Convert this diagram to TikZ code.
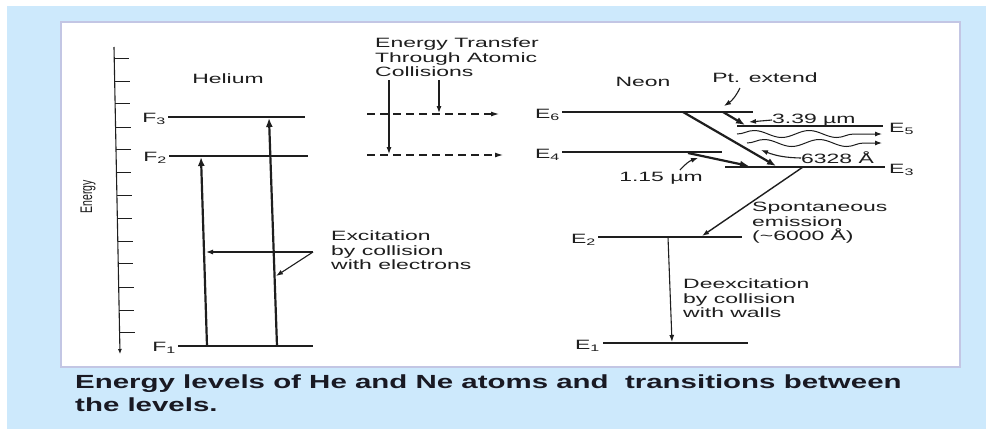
\documentclass[tikz,border=0pt]{standalone}
\usepackage{fontspec}
\setmainfont{Liberation Sans}
\newfontfamily\diagfont[FakeStretch=1.7]{Liberation Sans}
\newfontfamily\captfont[FakeStretch=1.55]{Liberation Sans}
\usetikzlibrary{arrows.meta,decorations.pathmorphing,calc}
\definecolor{bgblue}{RGB}{205,233,252}
\definecolor{paneledge}{RGB}{195,198,228}
\definecolor{ink}{RGB}{30,30,30}
\definecolor{capink}{RGB}{25,25,35}
\begin{document}
\begin{tikzpicture}[x=1pt,y=-1pt,
  txt/.style={font=\diagfont\fontsize{13.5}{14.5}\selectfont, text=ink, inner sep=0pt, align=left},
  lvl/.style={draw=ink, line width=1.1pt},
  thinarrow/.style={draw=ink, line width=1.1pt, -{Latex[length=7pt,width=5pt]}},
  thickarrow/.style={draw=ink, line width=2.2pt, -{Latex[length=9pt,width=7pt]}},
  dasharrow/.style={draw=ink, line width=1.1pt, dash pattern=on 8pt off 5pt, -{Latex[length=8pt,width=5pt]}},
  wavearrow/.style={draw=ink, line width=1pt, -{Latex[length=7pt,width=5pt]}, decorate,
    decoration={snake, amplitude=3.5pt, segment length=55pt, post length=8pt}},
]
\useasboundingbox (0,0) rectangle (986,429);
\fill[white] (0,0) rectangle (986,429);
\fill[bgblue] (7,6) rectangle (986,429);
\draw[paneledge, line width=2pt, fill=white] (61,22) rectangle (960,367);

% energy axis
\coordinate (axT) at (114,47);
\coordinate (axB) at (120,354);
\draw[ink, line width=1.1pt, -{Latex[length=5pt,width=4pt]}] (axT) -- (axB);
\foreach \y [evaluate=\y as \t using (\y-47)/307] in {58,81,103,127,149,172,195,218,241,263,287,310,332}
  \draw[ink, line width=1pt] ($(axT)!\t!(axB)$) -- ++(15,0);
\node[rotate=90, inner sep=0pt, text=ink] (energy) at (88,197)
  {\scalebox{1}[1.6]{\fontsize{10.5}{12}\selectfont Energy}};

% Helium
\node[txt] (he) at (228,79) {Helium};
\coordinate (F3a) at (168,117); \coordinate (F3b) at (305,117);
\coordinate (F2a) at (169,156); \coordinate (F2b) at (308,156);
\coordinate (F1a) at (178,346); \coordinate (F1b) at (313,346);
\draw[lvl] (F3a) -- (F3b);
\draw[lvl] (F2a) -- (F2b);
\draw[lvl] (F1a) -- (F1b);
\node[txt, anchor=east] (F3) at (166,119) {F\textsubscript{3}};
\node[txt, anchor=east] (F2) at (167,158) {F\textsubscript{2}};
\node[txt, anchor=east] (F1) at (176,348) {F\textsubscript{1}};
\coordinate (hL0) at (207,346); \coordinate (hL1) at (201,157);
\coordinate (hR0) at (277,346); \coordinate (hR1) at (269,118);
\draw[thickarrow] (hL0) -- (hL1);
\draw[thickarrow] (hR0) -- (hR1);
\coordinate (exK) at (313,252);
\coordinate (exH) at (206,252);
\coordinate (exD) at (276,276);
\draw[thinarrow] (exK) -- (exH);
\draw[thinarrow] (exK) -- (exD);
\node[txt, anchor=north west] (exc) at (331,231) {Excitation\\by collision\\with electrons};

% transfer
\node[txt, anchor=north west] (transfer) at (375,38) {Energy Transfer\\Through Atomic\\Collisions};
\coordinate (d6a) at (367,114); \coordinate (d6b) at (499,114);
\coordinate (d4a) at (367,155); \coordinate (d4b) at (503,155);
\draw[dasharrow] (d6a) -- (d6b);
\draw[dasharrow] (d4a) -- (d4b);
\coordinate (v1a) at (389,80); \coordinate (v1b) at (389,154);
\coordinate (v2a) at (439,80); \coordinate (v2b) at (439,113);
\draw[thinarrow] (v1a) -- (v1b);
\draw[thinarrow] (v2a) -- (v2b);

% Neon
\node[txt] (ne) at (643,82) {Neon};
\node[txt] (pt) at (765,78) {Pt. extend};
\coordinate (E6a) at (562,112); \coordinate (E6b) at (753,112);
\coordinate (E5a) at (737,126); \coordinate (E5b) at (883,126);
\coordinate (E4a) at (562,152); \coordinate (E4b) at (722,152);
\coordinate (E3a) at (725,167); \coordinate (E3b) at (885,167);
\coordinate (E2a) at (598,237); \coordinate (E2b) at (742,237);
\coordinate (E1a) at (603,343); \coordinate (E1b) at (748,343);
\foreach \a/\b in {E6a/E6b,E5a/E5b,E4a/E4b,E3a/E3b,E2a/E2b,E1a/E1b}
  \draw[lvl] (\a) -- (\b);
\node[txt, anchor=east] (E6) at (560,115) {E\textsubscript{6}};
\node[txt, anchor=east] (E4) at (560,155) {E\textsubscript{4}};
\node[txt, anchor=west] (E5) at (889,129) {E\textsubscript{5}};
\node[txt, anchor=west] (E3) at (889,170) {E\textsubscript{3}};
\node[txt, anchor=east] (E2) at (596,240) {E\textsubscript{2}};
\node[txt, anchor=east] (E1) at (600,346) {E\textsubscript{1}};

\coordinate (t63a) at (683,112); \coordinate (t63b) at (776,166);
\coordinate (t65a) at (723,112); \coordinate (t65b) at (745,125);
\coordinate (t43a) at (688,153); \coordinate (t43b) at (749,166);
\draw[thickarrow] (t63a) -- (t63b);
\draw[thickarrow] (t65a) -- (t65b);
\draw[thickarrow] (t43a) -- (t43b);

\coordinate (ptA) at (740,88); \coordinate (ptB) at (724,106);
\draw[thinarrow] (ptA) to[bend left=15] (ptB);

\node[txt, anchor=west] (l339) at (772,120) {3.39 µm};
\coordinate (l339t) at (749,122);
\draw[thinarrow] (l339.west) -- (l339t);

\coordinate (w1a) at (737,134); \coordinate (w1b) at (882,134);
\coordinate (w2a) at (747,143); \coordinate (w2b) at (882,143);
\draw[wavearrow] (w1a) -- (w1b);
\draw[wavearrow] (w2a) -- (w2b);

\node[txt, anchor=west] (l6328) at (801,158) {6328 Å};
\coordinate (l6328t) at (761,150);
\draw[thinarrow] (l6328.west) to[bend left=10] (l6328t);

\node[txt] (l115) at (661,178) {1.15 µm};
\coordinate (l115s) at (680,170); \coordinate (l115t) at (698,158);
\draw[thinarrow] (l115s) to[bend left=15] (l115t);

\coordinate (spA) at (803,167); \coordinate (spB) at (702,236);
\draw[thinarrow, line width=1.4pt] (spA) -- (spB);
\node[txt, anchor=north west] (spont) at (752,202) {Spontaneous\\emission\\(\textasciitilde 6000 Å)};

\coordinate (deA) at (668,237); \coordinate (deB) at (672,342);
\draw[thinarrow] (deA) -- (deB);
\node[txt, anchor=north west] (deex) at (683,279) {Deexcitation\\by collision\\with walls};

% caption
\node[font=\captfont\bfseries\fontsize{19}{22.5}\selectfont, text=capink, anchor=north west, align=left, inner sep=0pt]
  (cap) at (75,375) {Energy levels of He and Ne atoms and\ \ transitions between\\the levels.};
\end{tikzpicture}
\end{document}
